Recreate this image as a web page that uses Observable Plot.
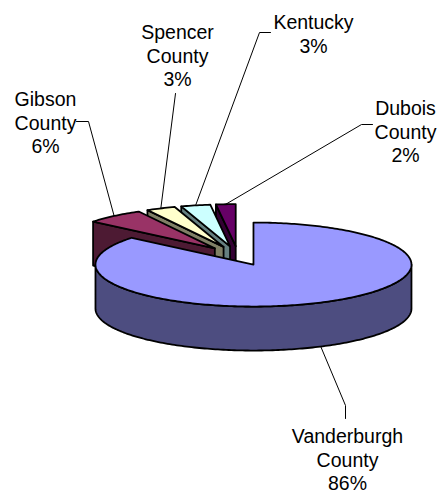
<!DOCTYPE html>
<html>
<head>
<meta charset="utf-8">
<script src="https://cdn.jsdelivr.net/npm/d3@7"></script>
<script src="https://cdn.jsdelivr.net/npm/@observablehq/plot@0.6"></script>
<style>
  html, body { margin: 0; padding: 0; background: #ffffff; }
  #chart { width: 444px; height: 495px; }
</style>
</head>
<body>
<div id="chart"></div>
<script>
// ---- data ----
const categories = ["Vanderburgh County", "Gibson County", "Spencer County", "Kentucky", "Dubois County"];
const shares = [86, 6, 3, 3, 2];
const labelNames = [["Vanderburgh", "County"], ["Gibson", "County"], ["Spencer", "County"], ["Kentucky"], ["Dubois", "County"]];
const topColors = ["#9999FF", "#993366", "#FFFFCC", "#CCFFFF", "#660066"];
const sideColors = ["#4D4D80", "#4D1A33", "#808066", "#668080", "#330033"];

// ---- layout (pie geometry in chart units, label anchors) ----
const W = 444, H = 495;
const geom = { cx: 237.5, cy: 255.3, rx: 158, ry: 42, depth: 44, explode: 0.23 };
const labelLayout = [
  { x: 347, y: 426, elbow: [[345, 418], [345, 405]], edge: "bottom" },
  { x: 45, y: 89, elbow: [[76, 121], [88, 121]], edge: "top" },
  { x: 177, y: 22, elbow: [[175, 93]], edge: "top" },
  { x: 313, y: 12, elbow: [[270, 32], [259, 32]], edge: "top" },
  { x: 405, y: 98, elbow: [[372, 124], [361, 124]], edge: "top" }
];
const fontSize = 19.5;

// ---- geometry ----
const total = d3.sum(shares);
let acc = 0;
const slices = shares.map((v, i) => {
  const a0 = acc / total * 2 * Math.PI;
  acc += v;
  const a1 = acc / total * 2 * Math.PI;
  const m = (a0 + a1) / 2;
  return { i, a0, a1, m, ox: geom.explode * Math.sin(m), oz: geom.explode * Math.cos(m) };
});
// painter's order: slices further back (larger oz) first
const drawOrder = slices.slice().sort((a, b) => b.oz - a.oz).map(s => s.i);

const proj = (ux, uz, h) => [geom.cx + geom.rx * ux, geom.cy - geom.ry * uz + h];
const rim = (s, t, h) => proj(s.ox + Math.sin(t), s.oz + Math.cos(t), h);
const vert = (s, h) => proj(s.ox, s.oz, h);
const arc = (s, t0, t1, h) => {
  const n = Math.max(2, Math.ceil(Math.abs(t1 - t0) / (Math.PI / 180)));
  return d3.range(n + 1).map(k => rim(s, t0 + (t1 - t0) * k / n, h));
};

const polys = [];
let pid = 0;
function addPoly(pts, color) {
  const id = pid++;
  pts.forEach(([x, y]) => polys.push({ id, x, y, color }));
}
for (const idx of drawOrder) {
  const s = slices[idx];
  const D = geom.depth;
  // outer wall, visible where facing the viewer (90deg..270deg)
  const t0 = Math.max(s.a0, Math.PI / 2), t1 = Math.min(s.a1, 3 * Math.PI / 2);
  if (t1 > t0) addPoly([...arc(s, t0, t1, 0), ...arc(s, t1, t0, D)], sideColors[idx]);
  // start wall
  if (Math.sin(s.a0) < -1e-6) addPoly([rim(s, s.a0, 0), vert(s, 0), vert(s, D), rim(s, s.a0, D)], sideColors[idx]);
  // end wall
  if (Math.sin(s.a1) > 1e-6) addPoly([rim(s, s.a1, 0), vert(s, 0), vert(s, D), rim(s, s.a1, D)], sideColors[idx]);
  // top face
  addPoly([vert(s, 0), ...arc(s, s.a0, s.a1, 0)], topColors[idx]);
}

// leader lines
const leaders = [];
labelLayout.forEach((L, i) => {
  const s = slices[i];
  const end = L.edge === "bottom" ? rim(s, s.m, geom.depth) : rim(s, s.m, 0);
  [...L.elbow, end].forEach(([x, y]) => leaders.push({ id: i, x, y }));
});

const labels = slices.map(s => ({
  x: labelLayout[s.i].x,
  y: labelLayout[s.i].y,
  text: [...labelNames[s.i], shares[s.i] + "%"].join("\n")
}));

const chart = Plot.plot({
  width: W,
  height: H,
  margin: 0,
  x: { domain: [0, W], range: [0, W], axis: null },
  y: { domain: [0, H], range: [0, H], axis: null },
  color: { type: "identity" },
  style: { background: "#ffffff", fontFamily: "'Liberation Sans', Arial, sans-serif" },
  marks: [
    Plot.line(leaders, { x: "x", y: "y", z: "id", stroke: "#000000", strokeWidth: 1 }),
    Plot.line(polys, {
      x: "x", y: "y", z: "id", fill: "color", stroke: "#000000",
      strokeWidth: 1.8, strokeLinejoin: "round", curve: "linear-closed"
    }),
    Plot.text(labels, {
      x: "x", y: "y", text: "text", textAnchor: "middle", lineAnchor: "top",
      fontSize: fontSize, lineHeight: 1.2, fill: "#000000"
    })
  ]
});
document.getElementById("chart").appendChild(chart);
</script>
</body>
</html>
